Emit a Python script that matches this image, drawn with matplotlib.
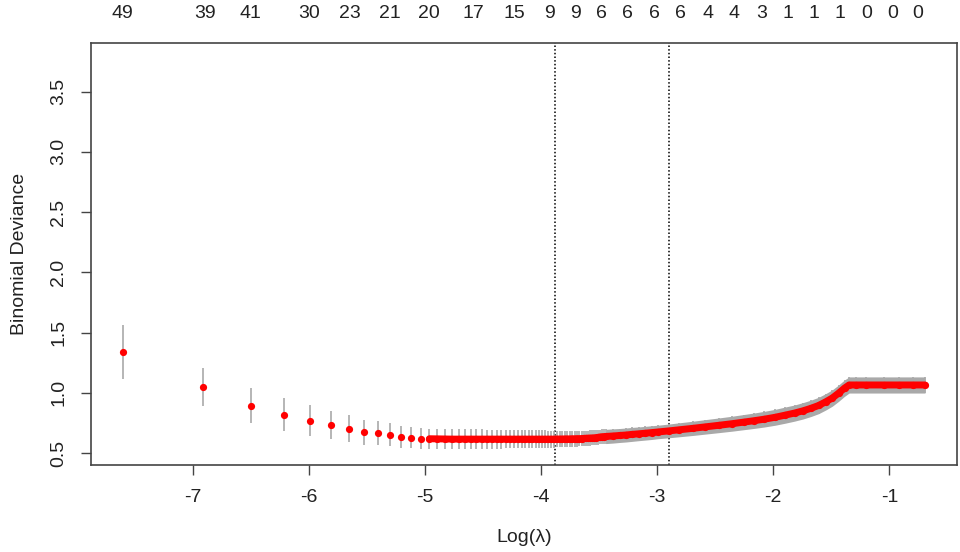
import numpy as np
import matplotlib
matplotlib.use("Agg")
import matplotlib.pyplot as plt
from matplotlib.transforms import blended_transform_factory

plt.rcParams['font.family'] = ['Liberation Sans', 'DejaVu Sans']

# ---- data ----
# lambda grid (glmnet cv), mean binomial deviance and its standard error
lambdas = [0.0005, 0.0010, 0.0015, 0.0020, 0.0025, 0.0030, 0.0035, 0.0040, 0.0045, 0.0050,
           0.0055, 0.0060, 0.0065, 0.0070, 0.0075, 0.0080, 0.0085, 0.0090, 0.0095, 0.0100,
           0.0105, 0.0110, 0.0115, 0.0120, 0.0125, 0.0130, 0.0135, 0.0140, 0.0145, 0.0150,
           0.0155, 0.0160, 0.0165, 0.0170, 0.0175, 0.0180, 0.0185, 0.0190, 0.0195, 0.0200,
           0.0205, 0.0210, 0.0215, 0.0220, 0.0225, 0.0230, 0.0235, 0.0240, 0.0245, 0.0250,
           0.0255, 0.0260, 0.0265, 0.0270, 0.0275, 0.0280, 0.0285, 0.0290, 0.0295, 0.0300,
           0.0305, 0.0310, 0.0315, 0.0320,
           0.034, 0.036, 0.038, 0.040, 0.0425, 0.045, 0.0475, 0.050, 0.055, 0.060,
           0.0675, 0.075, 0.085, 0.095, 0.105, 0.115, 0.125, 0.1375, 0.150, 0.1625,
           0.175, 0.1875, 0.200, 0.2125, 0.225, 0.2375, 0.250, 0.260, 0.275, 0.300,
           0.350, 0.400, 0.450, 0.500]

cvm = [1.337, 1.047, 0.895, 0.818, 0.770, 0.732, 0.704, 0.674, 0.666, 0.654,
       0.635, 0.629, 0.622, 0.620, 0.619, 0.618, 0.617, 0.617, 0.617, 0.617,
       0.617, 0.617, 0.617, 0.617, 0.617, 0.617, 0.617, 0.617, 0.617, 0.617,
       0.617, 0.617, 0.617, 0.617, 0.617, 0.617, 0.617, 0.617, 0.617, 0.617,
       0.617, 0.618, 0.618, 0.618, 0.619, 0.619, 0.619, 0.620, 0.620, 0.621,
       0.621, 0.622, 0.623, 0.624, 0.625, 0.626, 0.627, 0.628, 0.630, 0.632,
       0.635, 0.637, 0.638, 0.639,
       0.643, 0.647, 0.651, 0.656, 0.661, 0.666, 0.671, 0.676, 0.685, 0.694,
       0.706, 0.718, 0.732, 0.745, 0.758, 0.770, 0.782, 0.798, 0.816, 0.833,
       0.852, 0.873, 0.896, 0.926, 0.958, 0.998, 1.040, 1.066, 1.066, 1.066,
       1.066, 1.066, 1.066, 1.066]

cvsd = [0.224, 0.157, 0.145, 0.137, 0.131, 0.116, 0.113, 0.105, 0.100, 0.094,
        0.090, 0.088, 0.086, 0.085, 0.084, 0.083, 0.082, 0.082, 0.081, 0.081,
        0.080, 0.080, 0.079, 0.079, 0.078, 0.078, 0.077, 0.077, 0.076, 0.076,
        0.075, 0.075, 0.074, 0.074, 0.073, 0.073, 0.072, 0.072, 0.071, 0.071,
        0.070, 0.070, 0.069, 0.069, 0.068, 0.068, 0.067, 0.067, 0.066, 0.066,
        0.065, 0.065, 0.064, 0.064, 0.063, 0.063, 0.062, 0.062, 0.061, 0.061,
        0.060, 0.060, 0.060, 0.059,
        0.059, 0.058, 0.058, 0.058, 0.057, 0.057, 0.057, 0.056, 0.057, 0.058,
        0.059, 0.060, 0.061, 0.062, 0.063, 0.064, 0.065, 0.066, 0.067, 0.067,
        0.068, 0.068, 0.068, 0.068, 0.068, 0.068, 0.068, 0.067, 0.067, 0.067,
        0.067, 0.067, 0.067, 0.067]

lambda_min = 0.0206
lambda_1se = 0.0549

# number of nonzero coefficients shown along the top (log-lambda position, count)
nz_pos = [-7.606, -6.892, -6.499, -5.998, -5.649, -5.298, -4.968, -4.584, -4.229, -3.929,
          -3.705, -3.476, -3.258, -3.024, -2.796, -2.562, -2.334, -2.102, -1.873, -1.654,
          -1.430, -1.193, -0.969, -0.755]
nz_lab = [49, 39, 41, 30, 23, 21, 20, 17, 15, 9, 9, 6, 6, 6, 6, 4, 4, 3, 1, 1, 1, 0, 0, 0]

xticks = [-7, -6, -5, -4, -3, -2, -1]
yticks = [0.5, 1.0, 1.5, 2.0, 2.5, 3.0, 3.5]

# ---- drawing ----
loglam = np.log(np.array(lambdas))
m = np.array(cvm)
s = np.array(cvsd)

fig = plt.figure(figsize=(9.6, 5.52), dpi=100)
ax = fig.add_axes([0.0948, 0.1582, 0.9018, 0.7634])

grey = '#A9A9A9'
ax.vlines(loglam, m - s, m + s, color=grey, lw=1.2, zorder=2)
band = loglam >= np.log(0.032)
ax.fill_between(loglam[band], (m - s)[band], (m + s)[band], color=grey, lw=0, zorder=2)

dense = loglam >= np.log(0.007)
ax.plot(loglam[dense], m[dense], '-', color='red', lw=5.0, solid_capstyle='round',
        solid_joinstyle='round', zorder=3)
ax.plot(loglam, m, 'o', color='red', ms=5.2, mec='none', zorder=4)

for v in (lambda_min, lambda_1se):
    ax.axvline(np.log(v), color='black', lw=1.1, linestyle=(0, (1, 1.4)), zorder=1)

ax.set_xlim(-7.876, -0.42)
ax.set_ylim(0.405, 3.90)
ax.set_xticks(xticks)
ax.set_xticklabels([str(t) for t in xticks])
ax.set_yticks(yticks)
ax.set_yticklabels([f"{t:.1f}" for t in yticks], rotation=90, va='center')

for sp in ax.spines.values():
    sp.set_color('#444444')
    sp.set_linewidth(1.2)
ax.tick_params(axis='both', length=7.2, width=1.0, color='#444444', labelsize=14,
               labelcolor='#222222', pad=10)

ax.set_xlabel('Log(λ)', fontsize=14, color='#222222', labelpad=17)
ax.set_ylabel('Binomial Deviance', fontsize=14, color='#222222', labelpad=16)

trans = blended_transform_factory(ax.transData, ax.transAxes)
for p, lab in zip(nz_pos, nz_lab):
    ax.text(p, 1.071, str(lab), transform=trans, ha='center', va='center',
            fontsize=14, color='#222222', clip_on=False)

fig.savefig('out.png', dpi=100)
